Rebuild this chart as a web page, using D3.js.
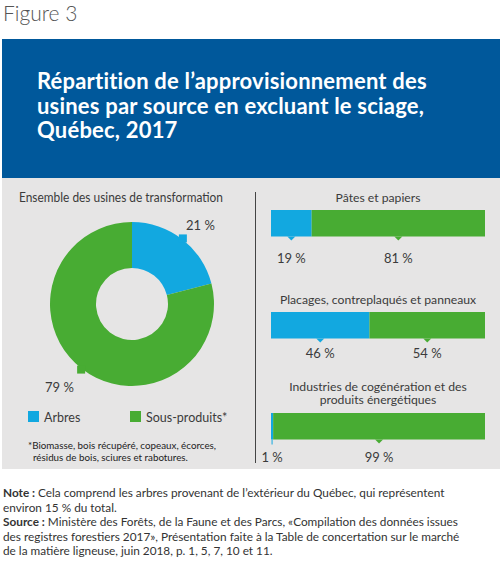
<!DOCTYPE html>
<html><head><meta charset="utf-8">
<script src="https://cdn.jsdelivr.net/npm/d3@7"></script>
<style>
body{margin:0;background:#fff;}
svg{display:block;}
text{font-family:Lato, "Open Sans", sans-serif;}
</style></head>
<body>
<script>
// ---- data ----
const categories = ["Arbres", "Sous-produits*"];
const overallValues = [21, 79];
const sectors = ["Pâtes et papiers", "Placages, contreplaqués et panneaux", "Industries de cogénération et des|produits énergétiques"];
const arbresValues = [19, 46, 1];
const sousProduitsValues = [81, 54, 99];
const titleLines = ["Répartition de l’approvisionnement des", "usines par source en excluant le sciage,", "Québec, 2017"];
const noteLines = [
  [["Note : ", true], ["Cela comprend les arbres provenant de l’extérieur du Québec, qui représentent", false]],
  [["environ 15 % du total.", false]],
  [["Source : ", true], ["Ministère des Forêts, de la Faune et des Parcs, «Compilation des données issues", false]],
  [["des registres forestiers 2017», Présentation faite à la Table de concertation sur le marché", false]],
  [["de la matière ligneuse, juin 2018, p. 1, 5, 7, 10 et 11.", false]]
];
const footnoteLines = ["*Biomasse, bois récupéré, copeaux, écorces,", "résidus de bois, sciures et rabotures."];

const W = 501, H = 563;
const colors = d3.scaleOrdinal().domain(categories).range(["#12A8E0", "#48AC33"]);
const textCol = "#3b3b3b";

const svg = d3.select("body").append("svg").attr("width", W).attr("height", H);

// Figure label
svg.append("text").attr("x", 3).attr("y", 21).attr("font-size", 21).attr("fill", "#555")
  .attr("font-weight", 300).text("Figure 3");

// Title box
svg.append("rect").attr("x", 2).attr("y", 39).attr("width", 498).attr("height", 139).attr("fill", "#00589B");
svg.append("g").selectAll("text").data(titleLines).join("text")
  .attr("x", 37).attr("y", (d, i) => 89 + i * 24.5)
  .attr("font-size", 22).attr("font-weight", 700).attr("fill", "#fff").attr("letter-spacing", 0.2).text(d => d);

// Gray panel
svg.append("rect").attr("x", 2).attr("y", 178).attr("width", 498).attr("height", 291).attr("fill", "#E6E5E5");

// divider
svg.append("line").attr("x1", 255.5).attr("x2", 255.5).attr("y1", 192).attr("y2", 463)
  .attr("stroke", "#444").attr("stroke-width", 1);

// ---- Left: donut ----
svg.append("text").attr("x", 19).attr("y", 202).attr("font-size", 12.5).attr("fill", textCol)
  .attr("textLength", 204).attr("lengthAdjust", "spacingAndGlyphs")
  .text("Ensemble des usines de transformation");

const cx = 132, cy = 304, rOut = 82, rIn = 36;
const pie = d3.pie().sort(null).value(d => d.v);
const pieData = pie(categories.map((c, i) => ({c, v: overallValues[i]})));
const arc = d3.arc().innerRadius(rIn).outerRadius(rOut);
const gDonut = svg.append("g").attr("transform", `translate(${cx},${cy})`);
gDonut.selectAll("path").data(pieData).join("path")
  .attr("d", arc).attr("fill", d => colors(d.data.c));
// small pointers
gDonut.selectAll("rect.ptr").data(pieData).join("rect").attr("class", "ptr")
  .each(function(d) {
    const a = (d.startAngle + d.endAngle) / 2;
    const r = rOut + 1;
    d3.select(this).attr("x", r * Math.sin(a) - 4).attr("y", -r * Math.cos(a) - 4)
      .attr("width", 8).attr("height", 8).attr("fill", colors(d.data.c));
  });
const donutLabelPos = [[186, 230], [45, 392]];
svg.append("g").selectAll("text").data(pieData).join("text")
  .attr("x", (d, i) => donutLabelPos[i][0]).attr("y", (d, i) => donutLabelPos[i][1])
  .attr("font-size", 13).attr("fill", textCol)
  .text(d => d.data.v + " %");

// legend
const legX = [28, 130];
const gLeg = svg.append("g");
categories.forEach((c, i) => {
  gLeg.append("rect").attr("x", legX[i]).attr("y", 411).attr("width", 11).attr("height", 11).attr("fill", colors(c));
  gLeg.append("text").attr("x", legX[i] + 16).attr("y", 422).attr("font-size", 12.5).attr("fill", textCol).text(c);
});
svg.append("g").selectAll("text").data(footnoteLines).join("text")
  .attr("x", (d, i) => i === 0 ? 28 : 33).attr("y", (d, i) => 449 + i * 12)
  .attr("font-size", 9.8).attr("fill", "#222")
  .text(d => d);

// ---- Right: stacked bars ----
const x = d3.scaleLinear().domain([0, 100]).range([271, 485]);
const barTop = [210, 312, 413], barH = 26.5;
const titleBase = [[202], [304], [390.5, 404]];
const labelBase = [263, 358, 462];
const stack = d3.stack().keys(categories);
const rows = sectors.map((s, i) => ({sector: s, "Arbres": arbresValues[i], "Sous-produits*": sousProduitsValues[i]}));
const series = stack(rows);
const gBars = svg.append("g");
sectors.forEach((s, i) => {
  s.split("|").forEach((line, j) => {
    gBars.append("text").attr("x", 378).attr("y", titleBase[i][j]).attr("text-anchor", "middle")
      .attr("font-size", 12.2).attr("fill", textCol).text(line);
  });
});
series.forEach(ser => {
  const col = colors(ser.key);
  ser.forEach((d, i) => {
    const x0 = x(d[0]), x1 = x(d[1]);
    gBars.append("rect").attr("x", x0).attr("y", barTop[i]).attr("width", Math.max(0, x1 - x0)).attr("height", barH).attr("fill", col);
    const mx = (x0 + x1) / 2;
    const yb = barTop[i] + barH;
    if (x1 - x0 > 8) {
      gBars.append("path").attr("d", `M${mx - 4},${yb} L${mx + 4},${yb} L${mx},${yb + 4} Z`).attr("fill", col);
    } else {
      gBars.append("line").attr("x1", mx).attr("x2", mx).attr("y1", yb).attr("y2", yb + 5).attr("stroke", col).attr("stroke-width", 1);
    }
    gBars.append("text").attr("x", mx).attr("y", labelBase[i]).attr("text-anchor", "middle")
      .attr("font-size", 13).attr("fill", textCol).text((d[1] - d[0]) + " %");
  });
});

// ---- Notes ----
const gNotes = svg.append("g");
noteLines.forEach((parts, i) => {
  const t = gNotes.append("text").attr("x", 3).attr("y", 497 + i * 14.5).attr("font-size", 11.8).attr("fill", "#333");
  parts.forEach(p => t.append("tspan").attr("font-weight", p[1] ? 700 : 400).text(p[0]));
});
</script>
</body></html>
